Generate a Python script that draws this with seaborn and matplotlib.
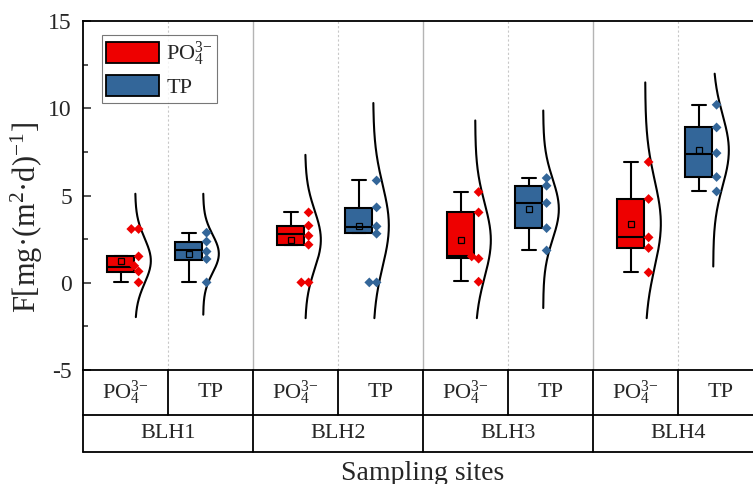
import numpy as np
import pandas as pd
import seaborn as sns
import matplotlib.pyplot as plt
from matplotlib.patches import Patch
from matplotlib.ticker import MultipleLocator

# sampling sites and the two phosphorus forms
sites = ["BLH1", "BLH2", "BLH3", "BLH4"]
forms = ["PO4", "TP"]
form_labels = ["PO$_4^{3{-}}$", "TP"]

po4_points = [[3.08, 3.08, 1.51, 0.97, 0.65, 0.02],
              [4.03, 3.27, 2.69, 2.18, 0.02, 0.02],
              [5.20, 4.03, 1.51, 1.38, 0.06],
              [6.92, 4.80, 2.60, 1.99, 0.59]]
tp_points = [[2.87, 2.36, 1.79, 1.36, 0.02],
             [5.86, 4.32, 3.23, 2.81, 0.02, 0.02],
             [6.00, 5.56, 4.57, 3.13, 1.85],
             [10.20, 8.90, 7.43, 6.06, 5.23]]

# box statistics as drawn in the figure
po4_lo = [0.02, 2.18, 0.08, 0.59]
po4_q1 = [0.59, 2.18, 1.42, 1.99]
po4_med = [0.88, 2.80, 1.51, 2.60]
po4_q3 = [1.51, 3.27, 4.03, 4.80]
po4_hi = [1.51, 4.03, 5.20, 6.92]
po4_mean = [1.26, 2.46, 2.44, 3.38]
tp_lo = [0.02, 2.85, 1.85, 5.23]
tp_q1 = [1.32, 2.85, 3.13, 6.06]
tp_med = [1.85, 3.19, 4.57, 7.39]
tp_q3 = [2.31, 4.28, 5.56, 8.90]
tp_hi = [2.85, 5.86, 6.00, 10.20]
tp_mean = [1.66, 3.27, 4.22, 7.58]

# extent of the normal distribution curves
po4_curve_lo = [-1.97, -2.03, -2.03, -2.03]
po4_curve_hi = [5.10, 7.33, 9.30, 11.48]
tp_curve_lo = [-1.83, -2.03, -1.45, 0.93]
tp_curve_hi = [5.10, 10.30, 9.87, 11.98]

colors = {"PO4": "#EE0000", "TP": "#336699"}

sns.set_style("white")
plt.rcParams["font.family"] = ["Liberation Serif", "DejaVu Serif"]
plt.rcParams["mathtext.fontset"] = "custom"
plt.rcParams["mathtext.rm"] = "Liberation Serif"
plt.rcParams["mathtext.it"] = "Liberation Serif:italic"
plt.rcParams["mathtext.default"] = "regular"
plt.rcParams["axes.unicode_minus"] = False

box_off = [0.222, 0.622]
curve_gap = 0.085
box_w = 0.159
amp = 0.092

fig = plt.figure(figsize=(7.53, 4.84), dpi=100)
ax = fig.add_axes([83 / 753, 1 - 370 / 484, 680 / 753, 349 / 484])

points = {"PO4": po4_points, "TP": tp_points}
stats_src = {
    "PO4": (po4_lo, po4_q1, po4_med, po4_q3, po4_hi, po4_mean, po4_curve_lo, po4_curve_hi),
    "TP": (tp_lo, tp_q1, tp_med, tp_q3, tp_hi, tp_mean, tp_curve_lo, tp_curve_hi),
}

rows = []
for i, s in enumerate(sites):
    for j, f in enumerate(forms):
        for v in points[f][i]:
            rows.append({"site": s, "form": f, "value": v,
                         "xpos": round(i + box_off[j] + curve_gap + 0.02, 3)})
df = pd.DataFrame(rows)

# separators
for k in range(1, 4):
    ax.axvline(k, color="#b4b4b4", lw=1.0, zorder=0)
for k in range(4):
    ax.axvline(k + 0.5, color="#c8c8c8", lw=0.8, ls=(0, (2, 2)), zorder=0)

# boxes
for j, f in enumerate(forms):
    lo, q1, med, q3, hi, mean, clo, chi = stats_src[f]
    bstats = [dict(whislo=lo[i], q1=q1[i], med=med[i], q3=q3[i], whishi=hi[i],
                   mean=mean[i], fliers=[]) for i in range(len(sites))]
    pos = [i + box_off[j] for i in range(len(sites))]
    ax.bxp(bstats, positions=pos, widths=box_w, capwidths=0.08, patch_artist=True,
           showmeans=True, showfliers=False, manage_ticks=False,
           boxprops=dict(facecolor=colors[f], edgecolor="black", linewidth=1.5),
           medianprops=dict(color="black", linewidth=1.5),
           whiskerprops=dict(color="black", linewidth=1.5),
           capprops=dict(color="black", linewidth=1.5),
           meanprops=dict(marker="s", markerfacecolor="none", markeredgecolor="black",
                          markersize=4.5, markeredgewidth=0.9))
    # normal distribution curves
    for i in range(len(sites)):
        sd = np.std(points[f][i], ddof=1)
        yy = np.linspace(clo[i], chi[i], 200)
        ww = np.exp(-0.5 * ((yy - mean[i]) / sd) ** 2)
        ax.plot(i + box_off[j] + curve_gap + amp * ww, yy, color="black", lw=1.5, zorder=3)

sns.swarmplot(data=df, x="xpos", y="value", hue="form", palette=colors,
              native_scale=True, marker="D", size=5, linewidth=0,
              legend=False, ax=ax, zorder=4, warn_thresh=1)

ax.set_xlim(0, 4)
ax.set_ylim(-5, 15)
ax.set_xlabel("")
ax.set_ylabel("")
ax.set_xticks([])
ax.set_yticks([-5, 0, 5, 10, 15])
ax.yaxis.set_minor_locator(MultipleLocator(2.5))
ax.tick_params(axis="y", which="major", direction="in", length=6, width=1.1,
               labelsize=17, pad=8, left=True)
ax.tick_params(axis="y", which="minor", direction="in", length=3.5, width=1.1, left=True)
for sp in ax.spines.values():
    sp.set_color("black")
    sp.set_linewidth(1.3)

# category table under the axis
tr = ax.get_xaxis_transform()
r1, r2 = -45 / 349, -82 / 349
line_kw = dict(color="black", lw=1.3, transform=tr, clip_on=False)
ax.plot([0, 4], [r1, r1], **line_kw)
ax.plot([0, 4], [r2, r2], **line_kw)
for k in np.arange(0, 4.01, 0.5):
    ax.plot([k, k], [0, r1], **line_kw)
for k in range(5):
    ax.plot([k, k], [r1, r2], **line_kw)
for i, s in enumerate(sites):
    for j, lab in enumerate(form_labels):
        ax.text(i + 0.25 + 0.5 * j, r1 / 2, lab, transform=tr, ha="center",
                va="center", fontsize=16)
    ax.text(i + 0.5, (r1 + r2) / 2, s, transform=tr, ha="center", va="center", fontsize=16)

fig.text(423 / 753, 1 - 473 / 484, "Sampling sites", ha="center", va="center", fontsize=20)
fig.text(27 / 753, 1 - 218 / 484, "F[mg·(m$^2$·d)$^{{-}1}$]", rotation=90,
         ha="center", va="center", fontsize=22)

handles = [Patch(facecolor=colors[f], edgecolor="black", linewidth=1.3) for f in forms]
leg = ax.legend(handles, form_labels, loc="upper left", bbox_to_anchor=(0.0275, 0.96),
                borderaxespad=0, frameon=True, fancybox=False, fontsize=16,
                handlelength=2.4, handleheight=1.1, borderpad=0.2,
                labelspacing=0.3, handletextpad=0.3)
leg.get_frame().set_edgecolor("#555555")
leg.get_frame().set_linewidth(0.8)

plt.savefig("out.png", dpi=100)
